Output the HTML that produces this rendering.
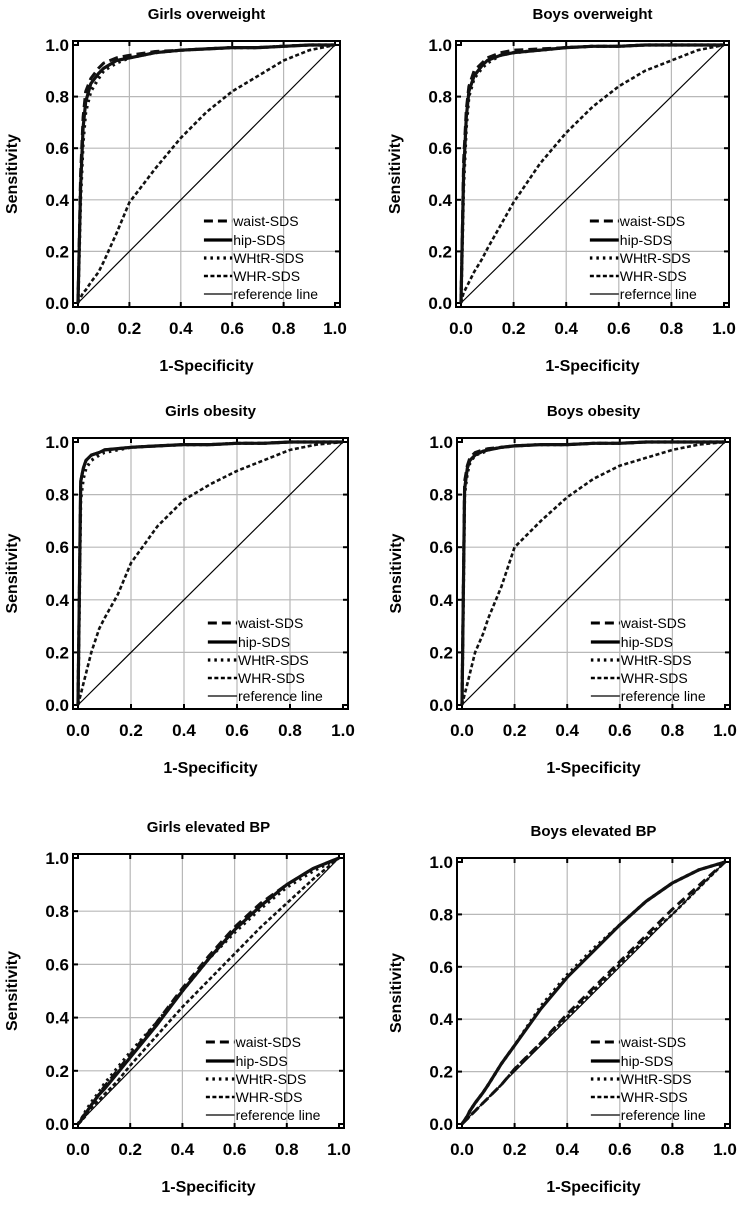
<!DOCTYPE html>
<html><head><meta charset="utf-8">
<style>
html,body{margin:0;padding:0;background:#fff;}
svg{display:block;font-family:"Liberation Sans",Arial,sans-serif;}
</style></head>
<body>
<svg id="fig" width="749" height="1207" viewBox="0 0 749 1207" xmlns="http://www.w3.org/2000/svg"></svg>
<script>
// Shared false-positive-rate grid
const fpr = [0,0.01,0.02,0.03,0.05,0.08,0.1,0.15,0.2,0.3,0.4,0.5,0.6,0.7,0.8,0.9,1];
// Panel titles
const titles = ["Girls overweight","Boys overweight","Girls obesity","Boys obesity","Girls elevated BP","Boys elevated BP"];
const seriesNames = ["waist-SDS","hip-SDS","WHtR-SDS","WHR-SDS"];
const refLabels = ["reference line","refernce line","reference line","reference line","reference line","reference line"];
const ticks = [0,0.2,0.4,0.6,0.8,1.0];
const tickLabels = ["0.0","0.2","0.4","0.6","0.8","1.0"];
// Sensitivity values per panel per series
const gow_waist = [0,0.5,0.72,0.82,0.87,0.91,0.93,0.95,0.96,0.975,0.98,0.985,0.99,0.99,0.995,1,1];
const gow_hip   = [0,0.45,0.68,0.78,0.85,0.89,0.91,0.94,0.95,0.97,0.98,0.985,0.99,0.99,0.995,1,1];
const gow_whtr  = [0,0.4,0.62,0.74,0.82,0.87,0.9,0.93,0.95,0.97,0.98,0.985,0.99,0.99,0.995,1,1];
const gow_whr   = [0,0.02,0.04,0.05,0.08,0.12,0.16,0.27,0.39,0.52,0.64,0.74,0.82,0.88,0.94,0.98,1];
const bow_waist = [0,0.55,0.75,0.84,0.9,0.93,0.95,0.97,0.98,0.985,0.99,0.995,0.995,1,1,1,1];
const bow_hip   = [0,0.5,0.72,0.82,0.88,0.92,0.94,0.96,0.97,0.98,0.99,0.995,0.995,1,1,1,1];
const bow_whtr  = [0,0.45,0.68,0.8,0.87,0.91,0.93,0.96,0.97,0.98,0.99,0.995,0.995,1,1,1,1];
const bow_whr   = [0,0.04,0.06,0.08,0.12,0.17,0.21,0.3,0.39,0.54,0.66,0.76,0.84,0.9,0.94,0.98,1];
const gob_waist = [0,0.85,0.9,0.93,0.95,0.96,0.97,0.975,0.98,0.985,0.99,0.99,0.995,0.995,1,1,1];
const gob_hip   = [0,0.85,0.9,0.93,0.95,0.96,0.97,0.975,0.98,0.985,0.99,0.99,0.995,0.995,1,1,1];
const gob_whtr  = [0,0.78,0.86,0.9,0.93,0.95,0.96,0.97,0.98,0.985,0.99,0.99,0.995,0.995,1,1,1];
const gob_whr   = [0,0.04,0.08,0.12,0.2,0.29,0.33,0.42,0.54,0.68,0.78,0.84,0.89,0.93,0.97,0.99,1];
const bob_waist = [0,0.85,0.91,0.94,0.96,0.97,0.975,0.98,0.985,0.99,0.99,0.995,0.995,1,1,1,1];
const bob_hip   = [0,0.82,0.9,0.93,0.95,0.965,0.97,0.98,0.985,0.99,0.99,0.995,0.995,1,1,1,1];
const bob_whtr  = [0,0.8,0.88,0.92,0.95,0.96,0.97,0.98,0.985,0.99,0.99,0.995,0.995,1,1,1,1];
const bob_whr   = [0,0.04,0.08,0.12,0.2,0.27,0.33,0.45,0.6,0.7,0.79,0.86,0.91,0.94,0.97,0.99,1];
const gbp_waist = [0,0.01,0.03,0.04,0.07,0.11,0.14,0.2,0.26,0.38,0.51,0.63,0.74,0.83,0.9,0.96,1];
const gbp_hip   = [0,0.01,0.03,0.04,0.07,0.11,0.13,0.19,0.25,0.37,0.5,0.62,0.73,0.82,0.9,0.96,1];
const gbp_whtr  = [0,0.015,0.03,0.05,0.08,0.12,0.15,0.21,0.27,0.38,0.5,0.62,0.72,0.81,0.89,0.95,1];
const gbp_whr   = [0,0.01,0.02,0.03,0.06,0.09,0.11,0.16,0.22,0.33,0.44,0.54,0.64,0.74,0.83,0.92,1];
const bbp_waist = [0,0.01,0.02,0.03,0.05,0.08,0.1,0.15,0.21,0.31,0.42,0.52,0.62,0.72,0.82,0.91,1];
const bbp_hip   = [0,0.015,0.03,0.05,0.08,0.12,0.15,0.23,0.3,0.44,0.56,0.66,0.76,0.85,0.92,0.97,1];
const bbp_whtr  = [0,0.015,0.03,0.05,0.08,0.12,0.15,0.23,0.3,0.45,0.57,0.67,0.76,0.85,0.92,0.97,1];
const bbp_whr   = [0,0.01,0.02,0.03,0.05,0.08,0.1,0.15,0.21,0.31,0.41,0.51,0.61,0.71,0.8,0.9,1];
const panelData = [
  [gow_waist,gow_hip,gow_whtr,gow_whr],
  [bow_waist,bow_hip,bow_whtr,bow_whr],
  [gob_waist,gob_hip,gob_whtr,gob_whr],
  [bob_waist,bob_hip,bob_whtr,bob_whr],
  [gbp_waist,gbp_hip,gbp_whtr,gbp_whr],
  [bbp_waist,bbp_hip,bbp_whtr,bbp_whr]
];

const NS = "http://www.w3.org/2000/svg";
const svg = document.getElementById("fig");
function mk(tag, attrs, parent){
  const e = document.createElementNS(NS, tag);
  for (const k in attrs) e.setAttribute(k, attrs[k]);
  (parent||svg).appendChild(e);
  return e;
}
// layout: data-space corners [x0,x1,y1(top),y0(bottom)]
const layout = [
  [78,335,45,303],[461,724,45,303],
  [78,343,442,705],[462,725,442,705],
  [78,339,858,1124],[462,725,862,1124]
];
const styles = [
  {dash:"9,5", w:3},
  {dash:"", w:3.2},
  {dash:"2.5,4", w:3.2},
  {dash:"4,2.5", w:2.6}
];

layout.forEach((L, p) => {
  const [x0,x1,yt,yb] = L;
  const sx = v => x0 + v*(x1-x0);
  const sy = v => yb - v*(yb-yt);
  const g = mk("g", {});
  
  
  // grid
  ticks.forEach(t => {
    if (t>0 && t<1) {
      const gl = mk("line",{x1:sx(t),x2:sx(t),y1:yt-4,y2:yb+4,stroke:"#b8b8b8","stroke-width":1.2},g);
      
      
      const gh = mk("line",{x1:x0-4,x2:x1+4,y1:sy(t),y2:sy(t),stroke:"#b8b8b8","stroke-width":1.2},g);
      
      
    }
  });
  // frame
  const fr = mk("rect",{x:x0-5,y:yt-4,width:(x1-x0)+10,height:(yb-yt)+8,fill:"none",stroke:"#000","stroke-width":2},g);
  
  
  // tick marks and labels
  ticks.forEach((t,i) => {
    mk("line",{x1:sx(t),x2:sx(t),y1:yb+4,y2:yb-1,stroke:"#000","stroke-width":2},g);
    mk("line",{x1:sx(t),x2:sx(t),y1:yt-4,y2:yt+1,stroke:"#000","stroke-width":2},g);
    mk("line",{x1:x0-5,x2:x0,y1:sy(t),y2:sy(t),stroke:"#000","stroke-width":2},g);
    mk("line",{x1:x1+5,x2:x1,y1:sy(t),y2:sy(t),stroke:"#000","stroke-width":2},g);
    const xl = mk("text",{x:sx(t),y:yb+31,"text-anchor":"middle","font-size":17,"font-weight":"bold"},g);
    xl.textContent = tickLabels[i];
    
    
    const yl = mk("text",{x:x0-9,y:sy(t)+6,"text-anchor":"end","font-size":17,"font-weight":"bold"},g);
    yl.textContent = tickLabels[i];
    
    
  });
  // title
  const ti = mk("text",{x:(x0+x1)/2,y:yt-26,"text-anchor":"middle","font-size":15,"font-weight":"bold"},g);
  ti.textContent = titles[p];
  
  
  // axis titles
  const xt = mk("text",{x:(x0+x1)/2,y:yb+68,"text-anchor":"middle","font-size":16,"font-weight":"bold"},g);
  xt.textContent = "1-Specificity";
  
  
  const cy = (yt+yb)/2;
  const yt2 = mk("text",{x:x0-61,y:cy,"text-anchor":"middle","font-size":16,"font-weight":"bold",transform:`rotate(-90 ${x0-61} ${cy})`},g);
  yt2.textContent = "Sensitivity";
  
  
  // reference line
  const rl = mk("line",{x1:sx(0),y1:sy(0),x2:sx(1),y2:sy(1),stroke:"#000","stroke-width":1.2},g);
  
  
  // series
  panelData[p].forEach((vals, s) => {
    const d = vals.map((v,i) => (i?"L":"M") + sx(fpr[i]).toFixed(1) + "," + sy(v).toFixed(1)).join(" ");
    const st = styles[s];
    const path = mk("path",{d:d,fill:"none",stroke:"#111","stroke-width":st.w,"stroke-dasharray":st.dash,"stroke-linejoin":"round"},g);
    
    
  });
  // legend
  const lx1 = x0 + 0.49*(x1-x0), lx2 = x0 + 0.6*(x1-x0);
  const offs = [82,63,45,27,9];
  const leg = mk("g",{},g);
  
  
  for (let k=0;k<5;k++){
    const y = yb - offs[k];
    const st = k<4 ? styles[k] : {dash:"",w:1.2};
    mk("line",{x1:lx1,x2:lx2,y1:y,y2:y,stroke:"#000","stroke-width":st.w,"stroke-dasharray":st.dash},leg);
    const tx = mk("text",{x:lx2+1,y:y+5,"font-size":14},leg);
    tx.textContent = k<4 ? seriesNames[k] : refLabels[p];
    
    
  }
});
</script>
</body></html>
